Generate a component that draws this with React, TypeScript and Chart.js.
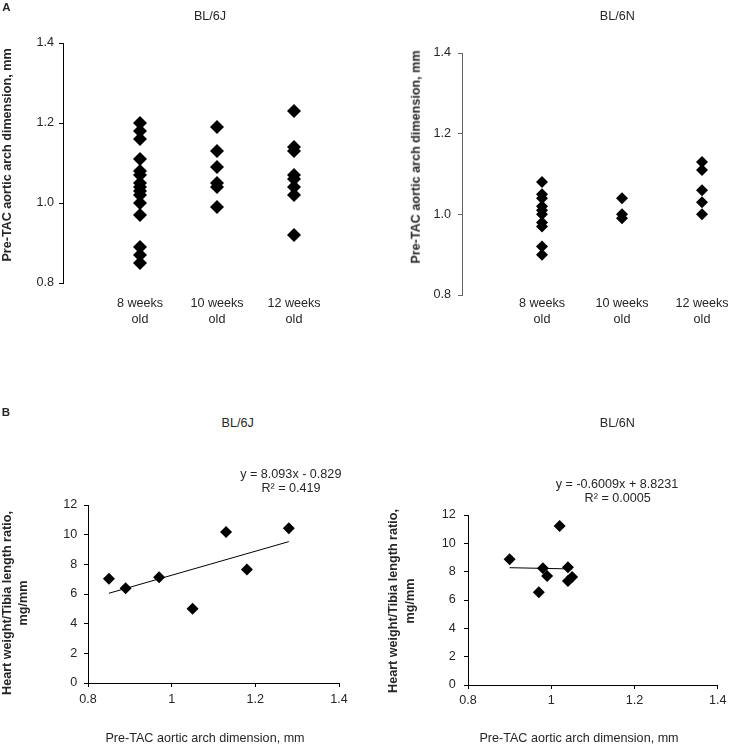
import React, { useEffect, useRef } from "react";
import { Chart, registerables } from "chart.js";

Chart.register(...registerables);

// ---------------- data ----------------
const categoryLines: string[][] = [
  ["8 weeks", "old"],
  ["10 weeks", "old"],
  ["12 weeks", "old"],
];

// Panel A, BL/6J : pre-TAC aortic arch dimension (mm)
const j8weeks = [1.2, 1.18, 1.16, 1.11, 1.08, 1.07, 1.05, 1.04, 1.03, 1.02, 1.0, 0.97, 0.89, 0.87, 0.85];
const j10weeks = [1.19, 1.13, 1.09, 1.05, 1.04, 0.99];
const j12weeks = [1.23, 1.14, 1.13, 1.07, 1.06, 1.04, 1.02, 0.92];

// Panel A, BL/6N
const n8weeks = [1.08, 1.05, 1.04, 1.02, 1.01, 1.0, 0.98, 0.97, 0.92, 0.9];
const n10weeks = [1.04, 1.0, 0.99];
const n12weeks = [1.13, 1.11, 1.06, 1.03, 1.0];

// Panel B, BL/6J : heart weight / tibia length vs aortic arch dimension
const hwJx = [0.85, 0.89, 0.97, 1.05, 1.13, 1.18, 1.28];
const hwJy = [7.02, 6.39, 7.13, 5.0, 10.18, 7.65, 10.43];
const trendJx = [0.85, 1.28];
const trendJy = [6.05, 9.53];

// Panel B, BL/6N
const hwNx = [0.9, 0.97, 0.98, 0.99, 1.02, 1.04, 1.04, 1.05];
const hwNy = [8.88, 6.54, 8.24, 7.7, 11.22, 8.31, 7.35, 7.63];
const trendNx = [0.9, 1.05];
const trendNy = [8.28, 8.19];

const yTicksA = [0.8, 1.0, 1.2, 1.4];
const xTicksB = [0.8, 1.0, 1.2, 1.4];
const yTicksB = [0, 2, 4, 6, 8, 10, 12];

// ---------------- style ----------------
const FONT = "Arial, 'Liberation Sans', Helvetica, sans-serif";
const FS = 12.6;
const TEXT = "#262626";

Chart.defaults.font.family = FONT;
Chart.defaults.font.size = FS;
Chart.defaults.color = TEXT;

type Frame = {
  yWidth: number;
  xHeight: number;
  padTop: number;
  padRight: number;
  xTickPad: number;
  yTickPad: number;
  radius: number;
  axisColor: string;
};

function categoryConfig(series: number[][], xMax: number, f: Frame): any {
  return {
    type: "scatter",
    data: {
      datasets: [
        {
          data: series.flatMap((vals, i) => vals.map((v) => ({ x: i + 1, y: v }))),
          pointStyle: "rectRot",
          pointRadius: f.radius,
          pointHoverRadius: f.radius,
          backgroundColor: "#000",
          borderColor: "#000",
          borderWidth: 0,
        },
      ],
    },
    options: {
      responsive: false,
      animation: false,
      events: [],
      layout: { autoPadding: false, padding: { left: 0, top: f.padTop, right: f.padRight, bottom: 0 } },
      plugins: { legend: { display: false }, tooltip: { enabled: false } },
      scales: {
        x: {
          type: "linear",
          min: 0,
          max: xMax,
          border: { display: false },
          grid: { display: false, drawTicks: false },
          afterFit: (s: any) => {
            s.height = f.xHeight;
          },
          afterBuildTicks: (s: any) => {
            s.ticks = categoryLines.map((_, i) => ({ value: i + 1 }));
          },
          ticks: {
            padding: f.xTickPad,
            maxRotation: 0,
            autoSkip: false,
            color: TEXT,
            callback: (v: any) => categoryLines[Math.round(v) - 1] ?? "",
          },
        },
        y: {
          type: "linear",
          min: 0.8,
          max: 1.4,
          border: { display: true, color: f.axisColor, width: 1 },
          grid: { drawOnChartArea: false, drawTicks: true, tickLength: 4, color: f.axisColor },
          afterFit: (s: any) => {
            s.width = f.yWidth;
          },
          afterBuildTicks: (s: any) => {
            s.ticks = yTicksA.map((v) => ({ value: v }));
          },
          ticks: {
            padding: f.yTickPad,
            color: TEXT,
            callback: (v: any) => Number(v).toFixed(1),
          },
        },
      },
    },
  };
}

function regressionConfig(xs: number[], ys: number[], tx: number[], ty: number[], f: Frame): any {
  return {
    type: "scatter",
    data: {
      datasets: [
        {
          data: xs.map((x, i) => ({ x, y: ys[i] })),
          pointStyle: "rectRot",
          pointRadius: f.radius,
          pointHoverRadius: f.radius,
          backgroundColor: "#000",
          borderColor: "#000",
          borderWidth: 0,
          showLine: false,
          order: 0,
        },
        {
          data: tx.map((x, i) => ({ x, y: ty[i] })),
          showLine: true,
          borderColor: "#000",
          borderWidth: 1,
          pointRadius: 0,
          fill: false,
          order: 1,
        },
      ],
    },
    options: {
      responsive: false,
      animation: false,
      events: [],
      layout: { autoPadding: false, padding: { left: 0, top: f.padTop, right: f.padRight, bottom: 0 } },
      plugins: { legend: { display: false }, tooltip: { enabled: false } },
      scales: {
        x: {
          type: "linear",
          min: 0.8,
          max: 1.4,
          border: { display: true, color: f.axisColor, width: 1 },
          grid: { drawOnChartArea: false, drawTicks: true, tickLength: 4, color: f.axisColor },
          afterFit: (s: any) => {
            s.height = f.xHeight;
          },
          afterBuildTicks: (s: any) => {
            s.ticks = xTicksB.map((v) => ({ value: v }));
          },
          ticks: {
            padding: f.xTickPad,
            maxRotation: 0,
            autoSkip: false,
            color: TEXT,
            callback: (v: any) => String(Math.round(Number(v) * 10) / 10),
          },
        },
        y: {
          type: "linear",
          min: 0,
          max: 12,
          border: { display: true, color: f.axisColor, width: 1 },
          grid: { drawOnChartArea: false, drawTicks: true, tickLength: 4, color: f.axisColor },
          afterFit: (s: any) => {
            s.width = f.yWidth;
          },
          afterBuildTicks: (s: any) => {
            s.ticks = yTicksB.map((v) => ({ value: v }));
          },
          ticks: { padding: f.yTickPad, color: TEXT },
        },
      },
    },
  };
}

function ChartBox(props: { left: number; top: number; width: number; height: number; config: any }) {
  const ref = useRef<HTMLCanvasElement | null>(null);
  useEffect(() => {
    if (!ref.current) return;
    const chart = new Chart(ref.current, props.config);
    return () => chart.destroy();
  }, []);
  return (
    <canvas
      ref={ref}
      width={props.width}
      height={props.height}
      style={{ position: "absolute", left: props.left, top: props.top, width: props.width, height: props.height }}
    />
  );
}

function Label(props: { x: number; y: number; text: string; bold?: boolean; rotate?: boolean; size?: number }) {
  return (
    <div
      style={{
        position: "absolute",
        left: props.x,
        top: props.y,
        transform: `translate(-50%, -50%)${props.rotate ? " rotate(-90deg)" : ""}`,
        whiteSpace: "nowrap",
        fontFamily: FONT,
        fontSize: props.size ?? FS,
        fontWeight: props.bold ? "bold" : "normal",
        color: TEXT,
        lineHeight: 1.15,
      }}
    >
      {props.text}
    </div>
  );
}

const yTitleA = "Pre-TAC aortic arch dimension, mm";
const xTitleB = "Pre-TAC aortic arch dimension, mm";
const yTitleB1 = "Heart weight/Tibia length ratio,";
const yTitleB2 = "mg/mm";

export default function App() {
  const cfgA1 = categoryConfig([j8weeks, j10weeks, j12weeks], 3.8, {
    yWidth: 63, xHeight: 57, padTop: 43, padRight: 9.4, xTickPad: 13.4, yTickPad: 5, radius: 7, axisColor: "#000",
  });
  const cfgA2 = categoryConfig([n8weeks, n10weeks, n12weeks], 3.2, {
    yWidth: 97, xHeight: 45, padTop: 53, padRight: 13, xTickPad: 1.4, yTickPad: 7, radius: 6, axisColor: "#666",
  });
  const cfgB1 = regressionConfig(hwJx, hwJy, trendJx, trendJy, {
    yWidth: 88, xHeight: 63, padTop: 75, padRight: 26, xTickPad: 4.7, yTickPad: 6.7, radius: 6, axisColor: "#000",
  });
  const cfgB2 = regressionConfig(hwNx, hwNy, trendNx, trendNy, {
    yWidth: 103, xHeight: 61, padTop: 85, padRight: 11, xTickPad: 4.4, yTickPad: 8.3, radius: 6, axisColor: "#000",
  });

  return (
    <div style={{ position: "absolute", left: 0, top: 0, width: 731, height: 746, background: "#fff", overflow: "hidden" }}>
      <ChartBox left={0} top={0} width={365} height={340} config={cfgA1} />
      <ChartBox left={365} top={0} width={366} height={340} config={cfgA2} />
      <ChartBox left={0} top={430} width={365} height={316} config={cfgB1} />
      <ChartBox left={365} top={430} width={366} height={316} config={cfgB2} />

      <Label x={6.5} y={7.5} text="A" bold size={11.5} />
      <Label x={210} y={16} text="BL/6J" />
      <Label x={617.3} y={16} text="BL/6N" />
      <Label x={7} y={154.5} text={yTitleA} bold rotate />
      <Label x={416} y={156.5} text={yTitleA} bold rotate />

      <Label x={6} y={412.7} text="B" bold size={11.5} />
      <Label x={237.7} y={422.7} text="BL/6J" />
      <Label x={290.8} y={474.3} text="y = 8.093x - 0.829" />
      <Label x={291} y={488.3} text="R² = 0.419" />
      <Label x={7} y={603} text={yTitleB1} bold rotate />
      <Label x={23} y={603} text={yTitleB2} bold rotate />
      <Label x={205} y={737.7} text={xTitleB} />

      <Label x={617.3} y={423.3} text="BL/6N" />
      <Label x={617} y={484} text="y = -0.6009x + 8.8231" />
      <Label x={617.7} y={498.3} text="R² = 0.0005" />
      <Label x={393} y={601} text={yTitleB1} bold rotate />
      <Label x={410} y={601} text={yTitleB2} bold rotate />
      <Label x={579} y={737.7} text={xTitleB} />
    </div>
  );
}
